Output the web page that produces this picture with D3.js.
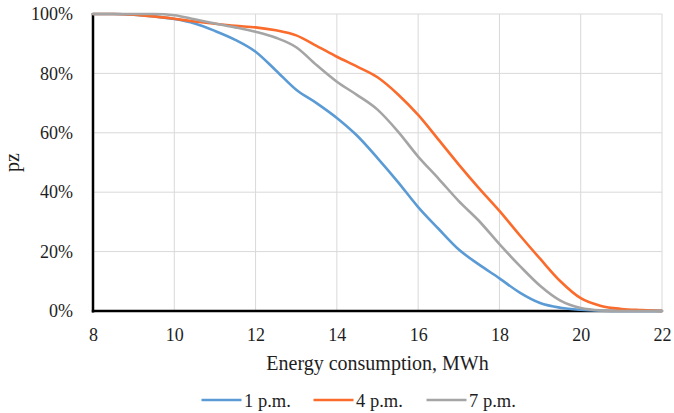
<!DOCTYPE html>
<html>
<head>
<meta charset="utf-8">
<script src="https://cdn.jsdelivr.net/npm/d3@7/dist/d3.min.js"></script>
<style>
  html, body { margin: 0; padding: 0; background: #fff; }
  svg { display: block; }
</style>
</head>
<body>
<svg id="chart" width="674" height="413"></svg>
<script>
const xValues = [8, 8.5, 9, 9.5, 10, 10.5, 11, 11.5, 12, 12.5, 13, 13.5, 14, 14.5, 15, 15.5, 16, 16.5, 17, 17.5, 18, 18.5, 19, 19.5, 20, 20.5, 21, 21.5, 22];
const series1pm = [100, 100, 99.8, 99.2, 98.3, 96.8, 94.3, 91.3, 87.3, 81, 74.5, 70, 65, 59, 51.5, 43.5, 35, 27.7, 20.7, 15.6, 11, 6.2, 2.7, 1.1, 0.4, 0.1, 0, 0, 0];
const series4pm = [100, 100, 99.8, 99.2, 98.4, 97.5, 96.7, 96, 95.5, 94.5, 92.8, 89.3, 85.6, 82.3, 78.7, 73, 66, 57.7, 49.3, 41.3, 33.7, 25.5, 17.6, 10, 4.3, 1.7, 0.7, 0.3, 0];
const series7pm = [100, 100, 100, 100, 99.6, 98.2, 96.8, 95.5, 94, 92, 88.8, 82.8, 77.2, 72.7, 67.8, 60.5, 52, 44.6, 37, 30.3, 22.5, 15.2, 8.5, 3.5, 1, 0.2, 0, 0, 0];
const seriesNames = ["1 p.m.", "4 p.m.", "7 p.m."];
const seriesColors = ["#5B9BD5", "#FA6B2C", "#A5A5A5"];
const xTicks = [8, 10, 12, 14, 16, 18, 20, 22];
const yTicks = [0, 20, 40, 60, 80, 100];
const xTitle = "Energy consumption, MWh";
const yTitle = "pz";

const FONT = '"Liberation Serif", "Times New Roman", Tinos, serif';
const TXT = "#1e1e1e";
const svg = d3.select("#chart");
const pLeft = 93, pRight = 662, pTop = 14, pBottom = 311;

const x = d3.scaleLinear().domain([8, 22]).range([pLeft, pRight]);
const y = d3.scaleLinear().domain([0, 100]).range([pBottom, pTop]);

// gridlines
const grid = svg.append("g");
grid.selectAll(".vg").data(xTicks).enter().append("line")
  .attr("x1", d => x(d)).attr("x2", d => x(d))
  .attr("y1", pTop).attr("y2", pBottom)
  .attr("stroke", "#d9d9d9").attr("stroke-width", 1);
grid.selectAll(".hg").data(yTicks).enter().append("line")
  .attr("x1", pLeft).attr("x2", pRight)
  .attr("y1", d => y(d)).attr("y2", d => y(d))
  .attr("stroke", "#d9d9d9").attr("stroke-width", 1);

// axes
const xAxis = d3.axisBottom(x).tickValues(xTicks).tickSize(0).tickPadding(17).tickFormat(d3.format("d"));
const yAxis = d3.axisLeft(y).tickValues(yTicks).tickSize(0).tickPadding(20).tickFormat(d => d + "%");

const gx = svg.append("g").attr("transform", `translate(0,${pBottom})`).call(xAxis);
gx.select(".domain").remove();
gx.selectAll("text").attr("fill", TXT)
  .style("font-family", FONT).style("font-size", "18px");

const gy = svg.append("g").attr("transform", `translate(${pLeft},0)`).call(yAxis);
gy.select(".domain").remove();
gy.selectAll("text").attr("fill", TXT)
  .style("font-family", FONT).style("font-size", "18px");

svg.append("line").attr("x1", pLeft).attr("x2", pLeft).attr("y1", pTop - 1).attr("y2", pBottom + 1.5)
  .attr("stroke", "#000").attr("stroke-width", 2.5);
svg.append("line").attr("x1", pLeft - 1.2).attr("x2", pRight).attr("y1", pBottom).attr("y2", pBottom)
  .attr("stroke", "#000").attr("stroke-width", 2.5);

// lines
const allSeries = [series1pm, series4pm, series7pm];
const line = d3.line()
  .x((d, i) => x(xValues[i]))
  .y(d => y(d))
  .curve(d3.curveMonotoneX);

svg.append("g").selectAll("path").data(allSeries).enter().append("path")
  .attr("d", d => line(d))
  .attr("fill", "none")
  .attr("stroke", (d, i) => seriesColors[i])
  .attr("stroke-width", 2.6)
  .attr("stroke-linejoin", "round")
  .attr("stroke-linecap", "round");

// titles
svg.append("text").attr("x", (pLeft + pRight) / 2).attr("y", 370)
  .attr("text-anchor", "middle").attr("fill", TXT)
  .style("font-family", FONT).style("font-size", "20px").text(xTitle);
svg.append("text").attr("transform", `translate(19,${(pTop + pBottom) / 2}) rotate(-90)`)
  .attr("text-anchor", "middle").attr("fill", TXT)
  .style("font-family", FONT).style("font-size", "20px").text(yTitle);

// legend
const legendStarts = [201.5, 313.5, 426.5];
const lg = svg.append("g").selectAll("g").data(seriesNames).enter().append("g")
  .attr("transform", (d, i) => `translate(${legendStarts[i]},400)`);
lg.append("line").attr("x1", 0).attr("x2", 40).attr("y1", 0).attr("y2", 0)
  .attr("stroke", (d, i) => seriesColors[i]).attr("stroke-width", 2.6);
lg.append("text").attr("x", 42.5).attr("y", 7).attr("fill", TXT)
  .style("font-family", FONT).style("font-size", "18.5px").text(d => d);
</script>
</body>
</html>
